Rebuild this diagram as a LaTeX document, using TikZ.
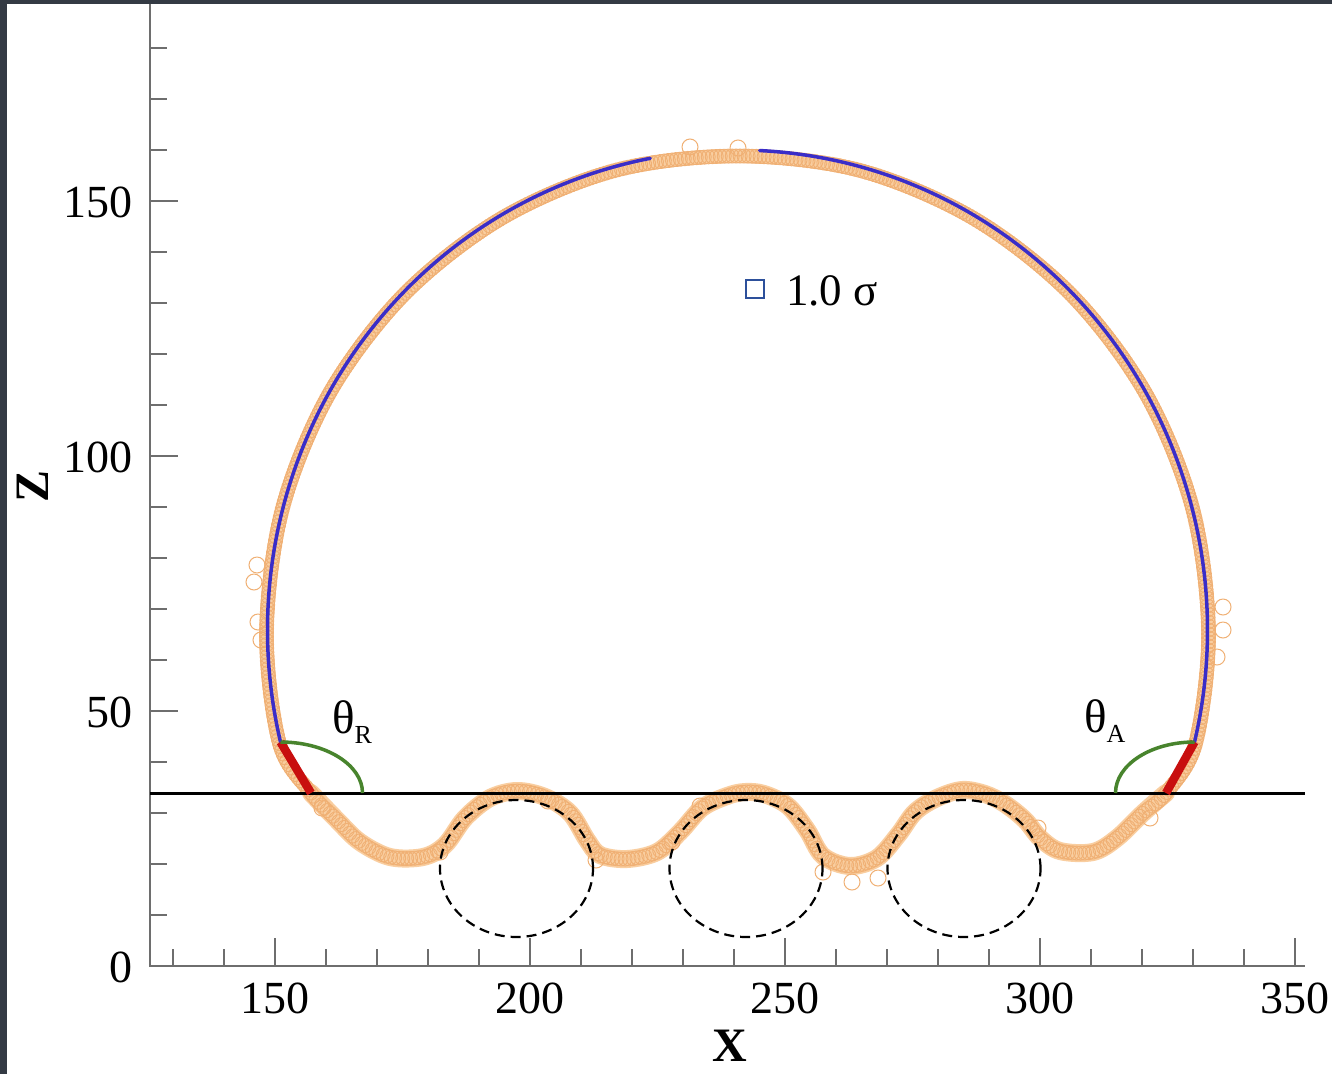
\documentclass[tikz,border=0pt]{standalone}
\usepackage{fontspec}
\setmainfont{Liberation Serif}
\usetikzlibrary{decorations.markings,calc}
\definecolor{darkbg}{RGB}{52,58,68}
\definecolor{axisgray}{RGB}{110,110,110}
\definecolor{bandfill}{RGB}{249,206,160}
\definecolor{ptline}{RGB}{240,176,116}
\definecolor{fitblue}{RGB}{58,45,200}
\definecolor{contactred}{RGB}{200,15,15}
\definecolor{anglegreen}{RGB}{72,132,45}
\definecolor{legblue}{RGB}{45,80,155}
\begin{document}
\begin{tikzpicture}[x=1pt,y=-1pt,
  axisline/.style={draw=axisgray, line width=2pt},
  tickmark/.style={draw=axisgray, line width=1.8pt},
  ticklabel/.style={font=\fontsize{46}{46}\selectfont, inner sep=0pt},
  axistitle/.style={font=\fontsize{48}{48}\selectfont\bfseries, inner sep=0pt},
  band/.style={draw=bandfill, line width=#1, line cap=round, line join=round},
  band/.default=14pt,
  dots/.style={postaction={decorate}, decoration={markings,
     mark=between positions 0 and 1 step 4pt with {\draw[draw=ptline, line width=0.9pt] (0,0) circle[radius=7pt];}}},
  stray/.style={draw=ptline, line width=1pt},
  fitline/.style={draw=fitblue, line width=3.5pt, line cap=round},
  contactseg/.style={draw=contactred, line width=8.5pt},
  anglearc/.style={draw=anglegreen, line width=3.5pt},
  substrate/.style={draw=black, line width=3pt},
  pillar/.style={draw=black, line width=2.2pt, dash pattern=on 10pt off 6pt},
  labeltext/.style={font=\fontsize{47}{47}\selectfont, inner sep=0pt}]
\useasboundingbox (0,0) rectangle (1332,1074);
\fill[darkbg] (0,0) rectangle (1332,1074);
\fill[white] (7,4) rectangle (1332,1074);

% axes
\coordinate (origin) at (150,966);
\coordinate (xend) at (1305,966);
\coordinate (yend) at (150,4);
\draw[axisline] (yend) -- (origin) -- (xend);
\foreach \v in {130,140,160,170,180,190,210,220,230,240,260,270,280,290,310,320,330,340}
  \draw[tickmark] ({275+(\v-150)*5.1},966) -- ++(0,-17);
\foreach \v in {150,200,250,300,350}{
  \draw[tickmark] ({275+(\v-150)*5.1},966) -- ++(0,-28);
  \node[ticklabel] (xl\v) at ({275+(\v-150)*5.1},998) {\v};
}
\foreach \v in {10,20,30,40,60,70,80,90,110,120,130,140,160,170,180}
  \draw[tickmark] (150,{966-\v*5.1}) -- ++(17,0);
\foreach \v in {50,100,150}
  \draw[tickmark] (150,{966-\v*5.1}) -- ++(28,0);
\foreach \v in {0,50,100,150}
  \node[ticklabel, anchor=east] (yl\v) at (133,{967-\v*5.1}) {\v};
\node[axistitle] (xtitle) at (730,1046) {X};
\node[axistitle, rotate=90] (ztitle) at (33,486) {Z};

% key points
\coordinate (dc) at (737.5,630);   % centre of fitted drop outline
\coordinate (cRtop) at (280.5,742);
\coordinate (cR) at (311,793);
\coordinate (cAtop) at (1194.5,742);
\coordinate (cA) at (1166,793);

% particle data: wider under-layer along the substrate
\path[band=18pt] plot[smooth, tension=0.55] coordinates {
  (1166,793) (1143,813) (1117,838) (1093,852) (1060,851) (1040,838) (1025,820)
  (1005,804) (985,794) (962,790) (937,798) (915,812) (898,835) (877,858)
  (850,866) (823,856) (807,830) (788,806) (764,794) (745,792) (727,796)
  (702,808) (680,832) (657,852) (627,859) (600,855) (587,840) (570,813)
  (545,797) (517,791) (490,798) (465,818) (445,845) (423,857) (390,857)
  (360,842) (337,820) (311,793)};
% particle data: full interface (drop + substrate) as open circles
\path[band, dots] plot[smooth cycle, tension=0.55] coordinates {
  (311,793) (279.5,743.6) (266.5,632) (282.5,508.3) (329.6,393) (404.5,294)
  (502,218) (615.6,170.3) (737.5,156) (859.4,170.3) (973,218) (1070.5,294)
  (1145.4,393) (1192.5,508.3) (1208.5,632) (1195.5,743.6)
  (1166,793) (1143,813) (1117,838) (1093,852) (1060,851) (1040,838) (1025,820)
  (1005,804) (985,794) (962,790) (937,798) (915,812) (898,835) (877,858)
  (850,866) (823,856) (807,830) (788,806) (764,794) (745,792) (727,796)
  (702,808) (680,832) (657,852) (627,859) (600,855) (587,840) (570,813)
  (545,797) (517,791) (490,798) (465,818) (445,845) (423,857) (390,857)
  (360,842) (337,820)};
\foreach \p in {(257,565),(254,582),(258,622),(261,640),(1223,607),(1223,630),
  (1217,657),(690,147),(738,148),(823,872),(852,882),(878,878),(672,842),
  (440,852),(548,801),(596,860),(700,806),(1038,828),(322,808),(1150,818)}
  \draw[stray] \p circle[radius=8pt];

% substrate line
\coordinate (subL) at (150,793);
\coordinate (subR) at (1305,793);
\draw[substrate] (subL) -- (subR);

% pillars (dashed)
\coordinate (p1) at (516.5,868.5);
\coordinate (p2) at (746,868.5);
\coordinate (p3) at (964,868.5);
\foreach \c in {p1,p2,p3}
  \draw[pillar] (\c) ellipse [x radius=76.5pt, y radius=68.5pt];

% fitted outline (blue)
\draw[fitline] (cRtop) arc [start angle=193.5, end angle=100.7, x radius=470pt, y radius=480pt];
\draw[fitline] ($(dc)+(87.3:470pt and 480pt)$)
   arc [start angle=87.3, end angle=-13.5, x radius=470pt, y radius=480pt];

% contact segments (red)
\draw[contactseg] (cRtop) -- (cR);
\draw[contactseg] (cAtop) -- (cA);

% angle arcs (green)
\draw[anglearc] (cRtop) arc [start angle=90, end angle=0, x radius=82pt, y radius=51pt];
\draw[anglearc] (cAtop) arc [start angle=90, end angle=180, x radius=79pt, y radius=51pt];

% labels
\node[labeltext, anchor=west] (thR) at (332,722) {θ\raisebox{-10pt}{\fontsize{26}{26}\selectfont R}};
\node[labeltext, anchor=west] (thA) at (1084,721) {θ\raisebox{-10pt}{\fontsize{26}{26}\selectfont A}};
\node[draw=legblue, line width=2.5pt, minimum size=18pt, inner sep=0pt] (legsq) at (755,289) {};
\node[font=\fontsize{45}{45}\selectfont, inner sep=0pt, anchor=west] (legtxt) at (786,291) {1.0 σ};
\end{tikzpicture}
\end{document}
